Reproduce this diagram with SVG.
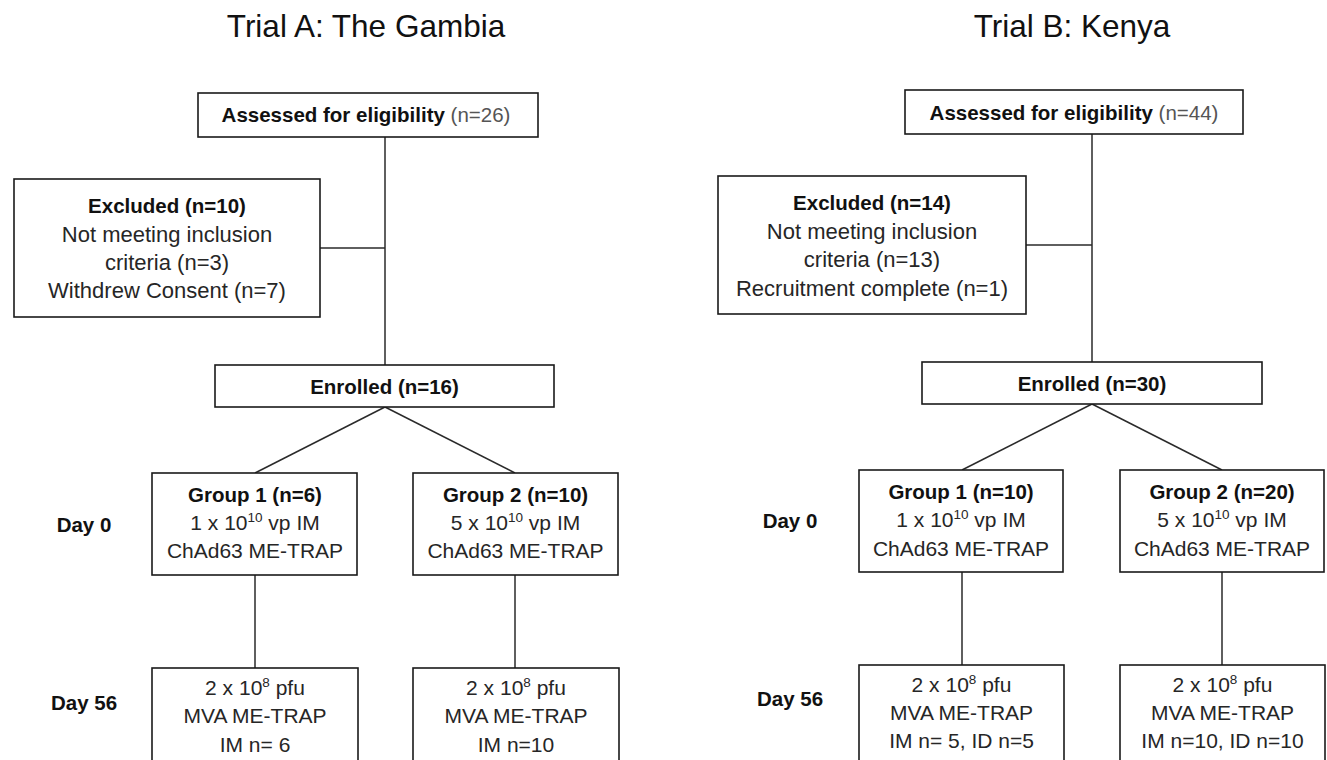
<svg xmlns="http://www.w3.org/2000/svg" width="1327" height="760" viewBox="0 0 1327 760">
<style>
  text { font-family: "Liberation Sans", Arial, sans-serif; text-anchor: middle; }
  .title { font-size: 31.5px; fill: #111; }
  .box { fill: #fff; stroke: #1a1a1a; stroke-width: 1.6; }
  .b { font-size: 20.5px; font-weight: bold; fill: #111; }
  .r { font-size: 21px; fill: #262626; }
  .ex { font-size: 22px; fill: #262626; }
  .n { font-weight: normal; fill: #555; }
  .sup { font-size: 13.5px; }
  .conn line { stroke: #2a2a2a; stroke-width: 1.5; fill: none; }
</style>
<rect width="1327" height="760" fill="#fff"/>

<text class="title" x="366" y="37">Trial A: The Gambia</text>
<text class="title" x="1072" y="37">Trial B: Kenya</text>

<g class="conn" id="connectors">
  <line x1="385" y1="137" x2="385" y2="365"/>
  <line x1="320" y1="248" x2="385" y2="248"/>
  <line x1="385" y1="407" x2="255" y2="473"/>
  <line x1="385" y1="407" x2="515" y2="473"/>
  <line x1="255" y1="575" x2="255" y2="668"/>
  <line x1="515" y1="575" x2="515" y2="668"/>

  <line x1="1092" y1="134" x2="1092" y2="362"/>
  <line x1="1026" y1="245" x2="1092" y2="245"/>
  <line x1="1092" y1="404" x2="962" y2="470"/>
  <line x1="1092" y1="404" x2="1222" y2="470"/>
  <line x1="962" y1="572" x2="962" y2="665"/>
  <line x1="1222" y1="572" x2="1222" y2="665"/>
</g>

<!-- Trial A -->
<g id="a-assessed">
  <rect class="box" x="198" y="93" width="340" height="44"/>
  <text class="b" x="366" y="122">Assessed for eligibility<tspan class="n"> (n=26)</tspan></text>
</g>
<g id="a-excluded">
  <rect class="box" x="14" y="179" width="306" height="138"/>
  <text class="b" x="167" y="213">Excluded (n=10)</text>
  <text class="ex" x="167" y="242">Not meeting inclusion</text>
  <text class="ex" x="167" y="270">criteria (n=3)</text>
  <text class="ex" x="167" y="298">Withdrew Consent (n=7)</text>
</g>
<g id="a-enrolled">
  <rect class="box" x="215" y="365" width="339" height="42"/>
  <text class="b" x="384.5" y="394">Enrolled (n=16)</text>
</g>
<g id="a-day0">
  <text class="b" x="84" y="532">Day 0</text>
</g>
<g id="a-day56">
  <text class="b" x="84" y="710">Day 56</text>
</g>
<g id="a-group1">
  <rect class="box" x="152" y="473" width="205" height="102"/>
  <text class="b" x="255" y="502">Group 1 (n=6)</text>
  <text class="r" x="255" y="530">1 x 10<tspan class="sup" dy="-8">10</tspan><tspan dy="8"> vp IM</tspan></text>
  <text class="r" x="255" y="558">ChAd63 ME-TRAP</text>
</g>
<g id="a-group2">
  <rect class="box" x="413" y="473" width="205" height="102"/>
  <text class="b" x="515.5" y="502">Group 2 (n=10)</text>
  <text class="r" x="515.5" y="530">5 x 10<tspan class="sup" dy="-8">10</tspan><tspan dy="8"> vp IM</tspan></text>
  <text class="r" x="515.5" y="558">ChAd63 ME-TRAP</text>
</g>
<g id="a-boost1">
  <rect class="box" x="152" y="668" width="206" height="110"/>
  <text class="r" x="255" y="695">2 x 10<tspan class="sup" dy="-8">8</tspan><tspan dy="8"> pfu</tspan></text>
  <text class="r" x="255" y="723">MVA ME-TRAP</text>
  <text class="r" x="255" y="752">IM n= 6</text>
</g>
<g id="a-boost2">
  <rect class="box" x="413" y="668" width="206" height="110"/>
  <text class="r" x="516" y="695">2 x 10<tspan class="sup" dy="-8">8</tspan><tspan dy="8"> pfu</tspan></text>
  <text class="r" x="516" y="723">MVA ME-TRAP</text>
  <text class="r" x="516" y="752">IM n=10</text>
</g>

<!-- Trial B -->
<g id="b-assessed">
  <rect class="box" x="905" y="90" width="338" height="44"/>
  <text class="b" x="1074" y="120">Assessed for eligibility<tspan class="n"> (n=44)</tspan></text>
</g>
<g id="b-excluded">
  <rect class="box" x="718" y="176" width="308" height="138"/>
  <text class="b" x="872" y="210">Excluded (n=14)</text>
  <text class="ex" x="872" y="239">Not meeting inclusion</text>
  <text class="ex" x="872" y="267">criteria (n=13)</text>
  <text class="ex" x="872" y="296">Recruitment complete (n=1)</text>
</g>
<g id="b-enrolled">
  <rect class="box" x="922" y="362" width="340" height="42"/>
  <text class="b" x="1092" y="391">Enrolled (n=30)</text>
</g>
<g id="b-day0">
  <text class="b" x="790" y="528">Day 0</text>
</g>
<g id="b-day56">
  <text class="b" x="790" y="706">Day 56</text>
</g>
<g id="b-group1">
  <rect class="box" x="859" y="470" width="204" height="102"/>
  <text class="b" x="961" y="499">Group 1 (n=10)</text>
  <text class="r" x="961" y="527">1 x 10<tspan class="sup" dy="-8">10</tspan><tspan dy="8"> vp IM</tspan></text>
  <text class="r" x="961" y="556">ChAd63 ME-TRAP</text>
</g>
<g id="b-group2">
  <rect class="box" x="1120" y="470" width="204" height="102"/>
  <text class="b" x="1222" y="499">Group 2 (n=20)</text>
  <text class="r" x="1222" y="527">5 x 10<tspan class="sup" dy="-8">10</tspan><tspan dy="8"> vp IM</tspan></text>
  <text class="r" x="1222" y="556">ChAd63 ME-TRAP</text>
</g>
<g id="b-boost1">
  <rect class="box" x="859" y="665" width="205" height="110"/>
  <text class="r" x="961.5" y="692">2 x 10<tspan class="sup" dy="-8">8</tspan><tspan dy="8"> pfu</tspan></text>
  <text class="r" x="961.5" y="720">MVA ME-TRAP</text>
  <text class="r" x="961.5" y="748">IM n= 5, ID n=5</text>
</g>
<g id="b-boost2">
  <rect class="box" x="1120" y="665" width="205" height="110"/>
  <text class="r" x="1222.5" y="692">2 x 10<tspan class="sup" dy="-8">8</tspan><tspan dy="8"> pfu</tspan></text>
  <text class="r" x="1222.5" y="720">MVA ME-TRAP</text>
  <text class="r" x="1222.5" y="748">IM n=10, ID n=10</text>
</g>
</svg>
